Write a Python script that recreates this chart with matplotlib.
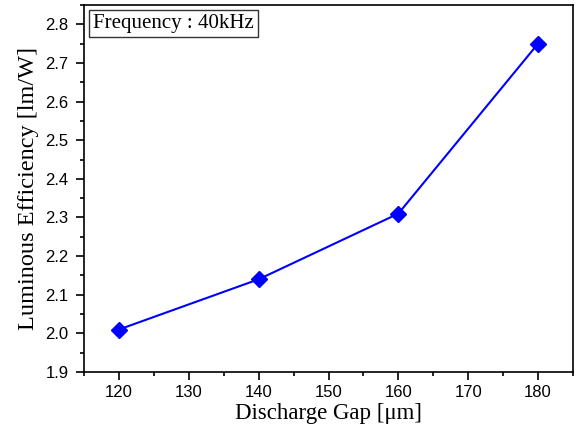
import matplotlib.pyplot as plt
from matplotlib.ticker import MultipleLocator

gap = [120, 140, 160, 180]
efficiency = [2.01, 2.14, 2.31, 2.75]

fig = plt.figure(figsize=(5.77, 4.30), dpi=100)
ax = fig.add_axes([84 / 577, 58 / 430, 489 / 577, 367 / 430])

ax.plot(gap, efficiency, color="#0000ff", lw=1.5, marker="D", ms=8)

ax.set_xlim(115, 185)
ax.set_ylim(1.9, 2.85)
ax.xaxis.set_major_locator(MultipleLocator(10))
ax.xaxis.set_minor_locator(MultipleLocator(5))
ax.yaxis.set_major_locator(MultipleLocator(0.1))
ax.yaxis.set_minor_locator(MultipleLocator(0.05))
ax.yaxis.set_major_formatter(plt.FormatStrFormatter("%.1f"))

ax.tick_params(which="both", direction="out", top=False, right=False,
               labelsize=12, width=1.2)
ax.tick_params(which="major", length=6)
ax.tick_params(which="minor", length=3)
ax.tick_params(axis="y", which="major", pad=5)
for lbl in ax.get_xticklabels() + ax.get_yticklabels():
    lbl.set_family("Liberation Sans")
for s in ax.spines.values():
    s.set_linewidth(1.2)

ax.set_xlabel("Discharge Gap [\u03bcm]", family="Liberation Serif", fontsize=16.5,
              labelpad=2)
ax.set_ylabel("Luminous Efficiency [lm/W]", family="Liberation Serif", fontsize=17.5,
              labelpad=5)

ax.text(0.018, 0.975, "Frequency : 40kHz", transform=ax.transAxes,
        family="Liberation Serif", fontsize=15, va="top", ha="left",
        bbox=dict(boxstyle="square,pad=0.2", fc="white", ec="#333333", lw=1))

fig.savefig("out.png", dpi=100)
